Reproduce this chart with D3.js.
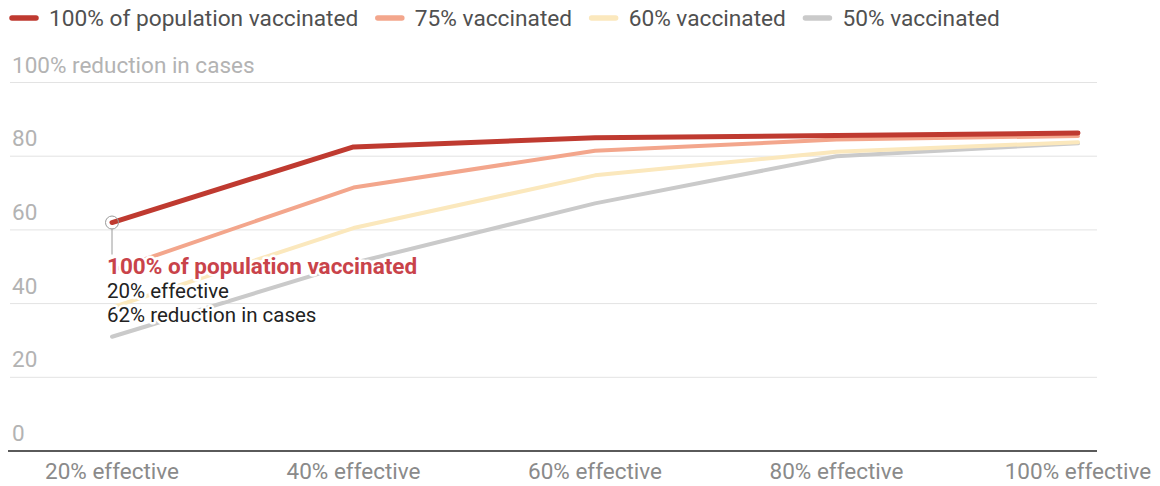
<!DOCTYPE html>
<html>
<head>
<meta charset="utf-8">
<script src="https://cdn.jsdelivr.net/npm/d3@7/dist/d3.min.js"></script>
<style>
  html, body { margin: 0; padding: 0; background: #fff; }
  svg { display: block; font-family: Roboto, "Noto Sans", sans-serif; }
</style>
</head>
<body>
<svg id="chart" width="1160" height="486"></svg>
<script>
// ---- data ----
const categories = ["20% effective", "40% effective", "60% effective", "80% effective", "100% effective"];
const seriesNames = ["100% of population vaccinated", "75% vaccinated", "60% vaccinated", "50% vaccinated"];
const vaccinated100 = [62, 82.5, 85, 85.6, 86.3];
const vaccinated75  = [49, 71.5, 81.5, 84.5, 85.5];
const vaccinated60  = [39, 60.5, 74.8, 81.2, 83.8];
const vaccinated50  = [31, 51, 67.2, 80, 83.5];
const yTicks = [0, 20, 40, 60, 80, 100];
const yTickLabels = ["0", "20", "40", "60", "80", "100% reduction in cases"];
const seriesColors = ["#bf3a30", "#f3a68c", "#fbe8bd", "#cacaca"];
const annotationLines = ["100% of population vaccinated", "20% effective", "62% reduction in cases"];

const series = [
  { name: seriesNames[0], values: vaccinated100, color: seriesColors[0], width: 5 },
  { name: seriesNames[1], values: vaccinated75, color: seriesColors[1], width: 4 },
  { name: seriesNames[2], values: vaccinated60, color: seriesColors[2], width: 4 },
  { name: seriesNames[3], values: vaccinated50, color: seriesColors[3], width: 4 }
];

const svg = d3.select("#chart");
const x = d3.scalePoint().domain(categories).range([112, 1078]);
const y = d3.scaleLinear().domain([0, 100]).range([451, 82.5]);

// gridlines
const grid = svg.append("g");
grid.selectAll("line").data(yTicks.filter(d => d > 0)).join("line")
  .attr("x1", 10).attr("x2", 1097)
  .attr("y1", d => y(d)).attr("y2", d => y(d))
  .attr("stroke", "#e3e3e3").attr("stroke-width", 1);

// y tick labels
svg.append("g").selectAll("text").data(yTicks).join("text")
  .attr("x", 12).attr("y", d => y(d) - 10)
  .attr("fill", "#b3b3b3").attr("font-size", 22.5)
  .text((d, i) => yTickLabels[i]);

// baseline axis
svg.append("line").attr("x1", 8).attr("x2", 1097)
  .attr("y1", y(0)).attr("y2", y(0))
  .attr("stroke", "#5a5a5a").attr("stroke-width", 2);

// x axis labels
svg.append("g").selectAll("text").data(categories).join("text")
  .attr("x", d => x(d)).attr("y", 479)
  .attr("text-anchor", "middle")
  .attr("fill", "#8a8a8a").attr("font-size", 22.5)
  .text(d => d);

// lines
const line = d3.line().x((d, i) => x(categories[i])).y(d => y(d));
svg.append("g").selectAll("path").data(series.slice().reverse()).join("path")
  .attr("d", d => line(d.values))
  .attr("fill", "none")
  .attr("stroke", d => d.color)
  .attr("stroke-width", d => d.width)
  .attr("stroke-linecap", "round")
  .attr("stroke-linejoin", "round");

// annotation marker
const ax = x(categories[0]), ay = y(vaccinated100[0]);
svg.append("line").attr("x1", ax).attr("x2", ax).attr("y1", ay + 6).attr("y2", ay + 32)
  .attr("stroke", "#9a9a9a").attr("stroke-width", 1);
svg.append("circle").attr("cx", ax).attr("cy", ay).attr("r", 6.5)
  .attr("fill", "none").attr("stroke", "#9a9a9a").attr("stroke-width", 1);

// annotation text
const ann = svg.append("g");
const annY = [274, 297.5, 321.5];
annotationLines.forEach((t, i) => {
  ann.append("text")
    .attr("x", ax - 5).attr("y", annY[i])
    .attr("font-size", i === 0 ? 22.5 : 20.5)
    .attr("font-weight", i === 0 ? "bold" : "normal")
    .attr("fill", i === 0 ? "#c9434a" : "#222")
    .attr("stroke", "#fff").attr("stroke-width", 5)
    .attr("stroke-linejoin", "round")
    .attr("paint-order", "stroke")
    .text(t);
});

// legend
const legend = svg.append("g");
let lx = 9;
series.forEach(s => {
  legend.append("line").attr("x1", lx + 3).attr("x2", lx + 27)
    .attr("y1", 18).attr("y2", 18)
    .attr("stroke", s.color).attr("stroke-width", 5.5).attr("stroke-linecap", "round");
  const t = legend.append("text").attr("x", lx + 40).attr("y", 26)
    .attr("font-size", 22.7).attr("fill", "#505050").text(s.name);
  lx = lx + 40 + t.node().getComputedTextLength() + 16.5;
});
</script>
</body>
</html>
